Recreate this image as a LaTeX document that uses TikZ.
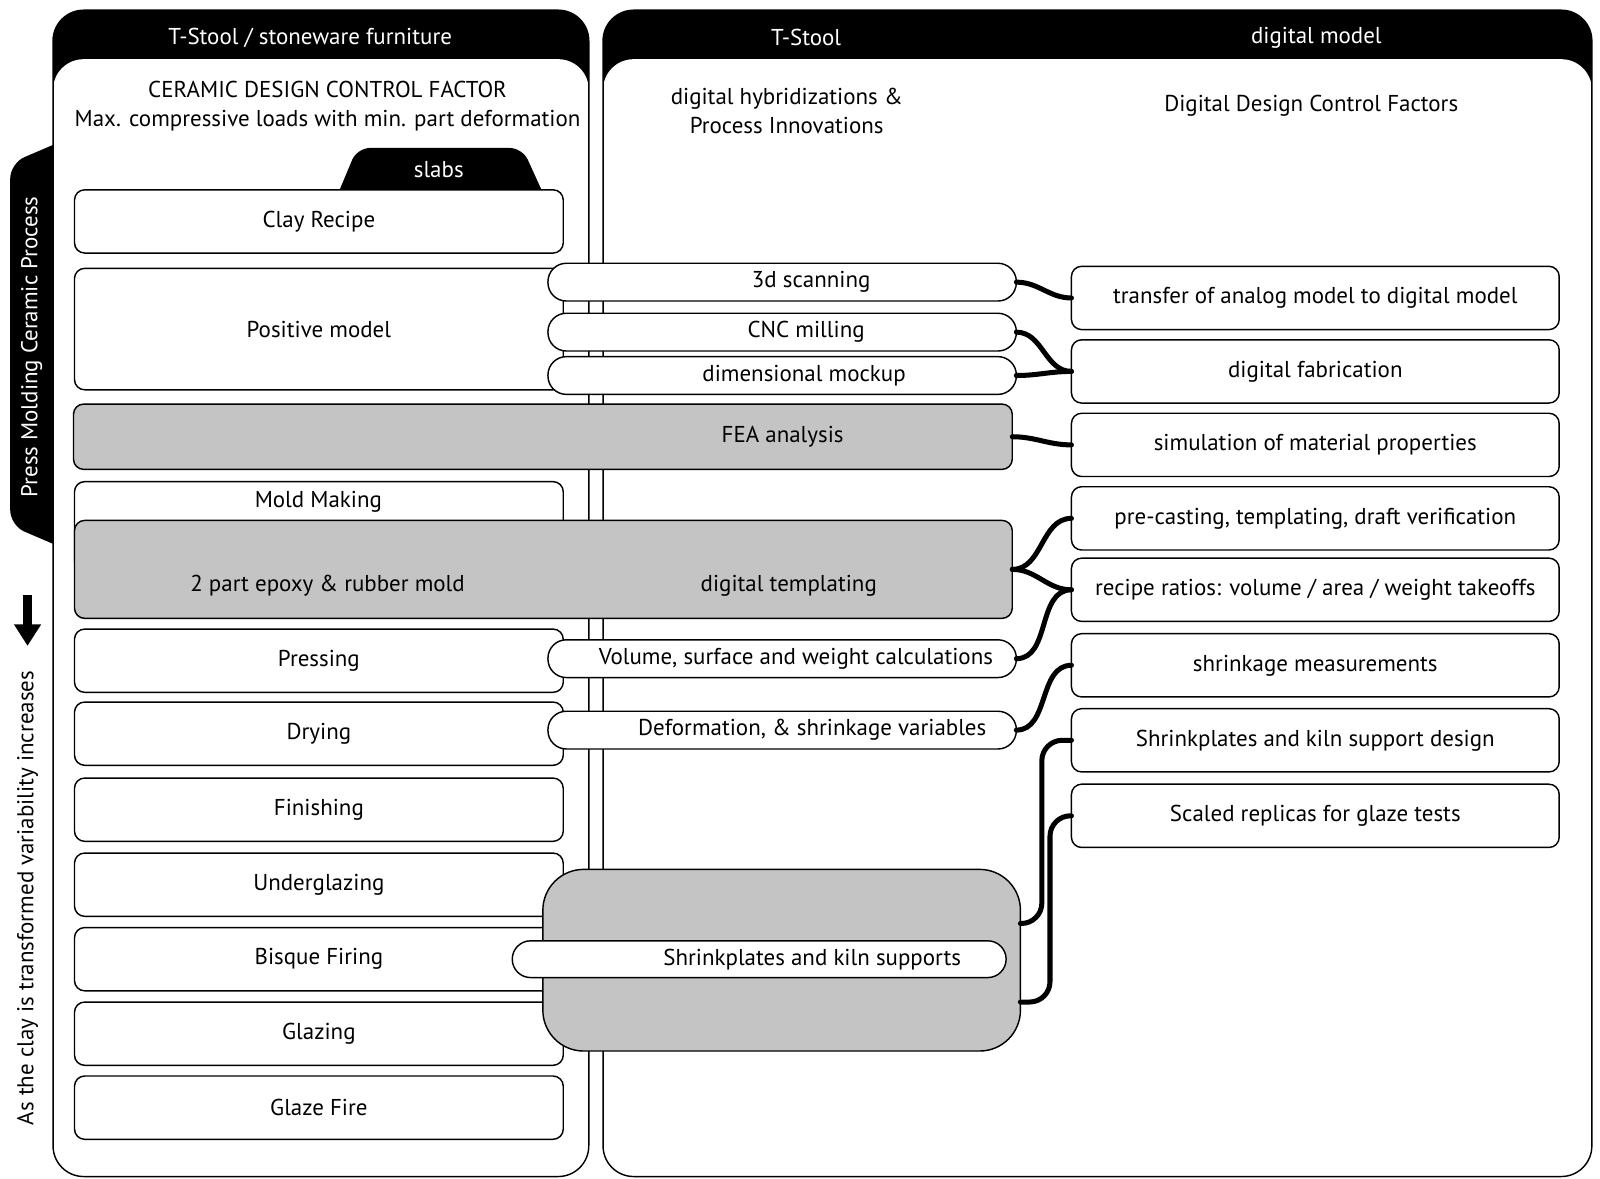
\documentclass[tikz,border=0pt]{standalone}
\usepackage{fontspec}
\setmainfont{PT Sans}
\usetikzlibrary{arrows.meta}
\definecolor{fillgray}{RGB}{196,196,196}
\tikzset{px/.style 2 args={minimum width=#1*0.02cm,minimum height=#2*0.02cm}}

\begin{document}
\begin{tikzpicture}[x=0.02cm,y=-0.02cm,font=\fontsize{12.8}{16}\selectfont]
\tikzstyle{stage}=[draw,rectangle,rounded corners=0.2cm,fill=white,line width=0.8pt,inner sep=0pt,outer sep=0pt]
\tikzstyle{grayblock}=[stage,fill=fillgray]
\tikzstyle{lstage}=[stage,px={479}{62}]
\tikzstyle{factor}=[stage,px={478}{62}]
\tikzstyle{pill}=[stage,rounded corners=0.36cm,px={459}{37}]
\tikzstyle{headtext}=[text=white]
\tikzstyle{link}=[line width=2.8pt,line cap=round]
\useasboundingbox (0,0) rectangle (1568,1155);

\fill[black,rounded corners=0.3cm] (80,130) -- (10,160) -- (10,515) -- (80,545) -- cycle;
\node[headtext,rotate=90] (press) at (31,340) {Press Molding Ceramic Process};

\fill[black,rounded corners=0.6cm] (52,10) rectangle (577,1153);
\fill[white,rounded corners=0.6cm] (52,58) rectangle (577,1153);
\draw[line width=0.8pt,rounded corners=0.6cm] (52,10) rectangle (577,1153);
\fill[black,rounded corners=0.6cm] (591,10) rectangle (1560,1153);
\fill[white,rounded corners=0.6cm] (591,58) rectangle (1560,1153);
\draw[line width=0.8pt,rounded corners=0.6cm] (591,10) rectangle (1560,1153);

\node[headtext] (lhead) at (304,37) {T-Stool / stoneware furniture};
\node[headtext] (rhead) at (790,37) {T-Stool};
\node[headtext] (dhead) at (1290,37) {digital model};
\node[align=center] (ceramic) at (321,104) {CERAMIC DESIGN CONTROL FACTOR\\Max. compressive loads with min. part deformation};
\node[align=center] (hybrid) at (771,109) {digital hybridizations \&\\Process Innovations};
\node (ddcf) at (1285,104) {Digital Design Control Factors};

\fill[black,rounded corners=0.25cm] (327,200) -- (350,145) -- (512,145) -- (537,200) -- cycle;
\node[headtext] (slabs) at (430,166) {slabs};

\coordinate (down-a) at (27,583);
\coordinate (down-b) at (27,633);
\draw[line width=0.17cm,-{Triangle[length=0.42cm,width=0.5cm]}] (down-a) -- (down-b);
\node[rotate=90] (variab) at (27,880) {As the clay is transformed variability increases};

\node[lstage] (clay) at (312.5,217) {Clay Recipe};
\node[stage,px={479}{119}] (positive) at (312.5,322.5) {Positive model};
\node[pill] (scan) at (766.5,276.5) {};
\node (scan-t) at (795,276.5) {3d scanning};
\node[pill] (cnc) at (766.5,325.5) {};
\node (cnc-t) at (790,325.5) {CNC milling};
\node[pill] (mockup) at (766.5,368) {};
\node (mockup-t) at (788,368) {dimensional mockup};

\node[grayblock,px={920}{64}] (fea) at (532,428) {};
\node (fea-t) at (767,428) {FEA analysis};

\node[stage,px={479}{88}] (mold) at (312.5,516) {};
\node (mold-t) at (312,492) {Mold Making};
\node[grayblock,px={919}{96}] (templating) at (532.5,558) {};
\node (epoxy-t) at (321,574) {2 part epoxy \& rubber mold};
\node (templating-t) at (773,574) {digital templating};

\node[lstage] (pressing) at (312.5,647.5) {Pressing};
\node[pill] (volume) at (766.5,645.5) {};
\node (volume-t) at (780,645.5) {Volume, surface and weight calculations};
\node[lstage] (drying) at (312.5,719) {Drying};
\node[pill] (deform) at (766.5,715.5) {};
\node (deform-t) at (796,715.5) {Deformation, \& shrinkage variables};
\node[lstage] (finishing) at (312.5,793.5) {Finishing};
\node[lstage] (underglazing) at (312.5,867) {Underglazing};
\node[lstage] (bisque) at (312.5,940) {Bisque Firing};
\node[lstage] (glazing) at (312.5,1013) {Glazing};
\node[lstage] (glazefire) at (312.5,1085.5) {Glaze Fire};

\node[grayblock,rounded corners=0.8cm,px={468}{178}] (kiln) at (766,941) {};
\node[pill,px={484}{36}] (plates) at (744,940) {};
\node (plates-t) at (796,940) {Shrinkplates and kiln supports};

\node[factor] (transfer) at (1289,292) {transfer of analog model to digital model};
\node[factor] (fab) at (1289,364) {digital fabrication};
\node[factor] (sim) at (1289,436) {simulation of material properties};
\node[factor] (precast) at (1289,508) {pre-casting, templating, draft verification};
\node[factor] (recipe) at (1289,578) {recipe ratios: volume / area / weight takeoffs};
\node[factor] (shrinkm) at (1289,652) {shrinkage measurements};
\node[factor] (shrinkd) at (1289,725.5) {Shrinkplates and kiln support design};
\node[factor] (scaled) at (1289,799.5) {Scaled replicas for glaze tests};

\draw[link] (scan.east) to[out=0,in=180] (transfer.west);
\draw[link] (cnc.east) to[out=0,in=180] (fab.west);
\draw[link] (mockup.east) to[out=0,in=180] (fab.west);
\draw[link] (fea.east) to[out=0,in=180] (sim.west);
\draw[link] (templating.east) to[out=0,in=180] (precast.west);
\draw[link] (templating.east) to[out=0,in=180] (recipe.west);
\draw[link] (volume.east) to[out=0,in=180] (recipe.west);
\draw[link] (deform.east) to[out=0,in=180] (shrinkm.west);
\draw[link,rounded corners=0.4cm] ([yshift=0.72cm]kiln.east) -- ++(0.42cm,0) |- (shrinkd.west);
\draw[link,rounded corners=0.4cm] ([yshift=-0.82cm]kiln.east) -- ++(0.58cm,0) |- (scaled.west);
\end{tikzpicture}
\end{document}
